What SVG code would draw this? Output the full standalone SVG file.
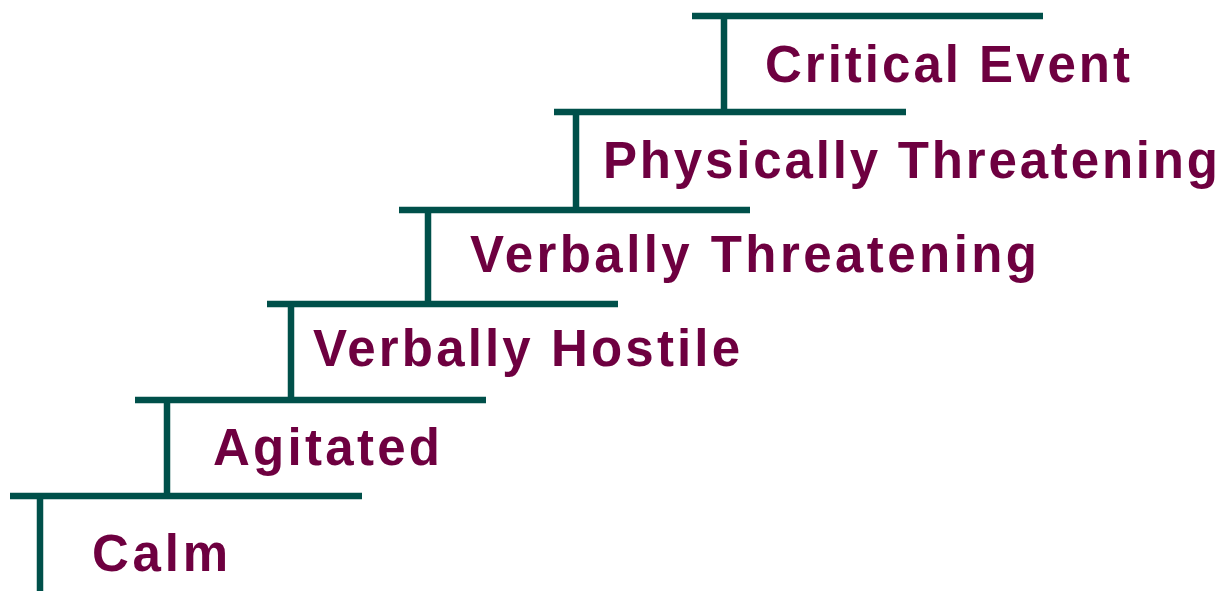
<svg xmlns="http://www.w3.org/2000/svg" width="1228" height="591" viewBox="0 0 1228 591">
<style>
.ln{stroke:#00504A;stroke-width:6.5;fill:none;stroke-linecap:butt}
.lb{font-family:"Liberation Sans",Arial,sans-serif;font-weight:bold;font-size:51px;fill:#6E0040}
</style>
<rect width="1228" height="591" fill="#FFFFFF"/>
<g id="connectors">
<path class="ln" d="M10 496H362M40 496V591"/>
<path class="ln" d="M135 400H486M167 400V496"/>
<path class="ln" d="M267 304H618M291 304V400"/>
<path class="ln" d="M399 210H750M428 210V307"/>
<path class="ln" d="M554 112H906M576 112V210"/>
<path class="ln" d="M692 16H1043M724 16V112"/>
</g>
<g id="calm"><text class="lb" x="92" y="571" textLength="136" lengthAdjust="spacing">Calm</text></g>
<g id="agitated"><text class="lb" x="213" y="465" textLength="227" lengthAdjust="spacing">Agitated</text></g>
<g id="verbally-hostile"><text class="lb" x="313" y="366" textLength="427" lengthAdjust="spacing">Verbally Hostile</text></g>
<g id="verbally-threatening"><text class="lb" x="470" y="272" textLength="567" lengthAdjust="spacing">Verbally Threatening</text></g>
<g id="physically-threatening"><text class="lb" x="603" y="178" textLength="615" lengthAdjust="spacing">Physically Threatening</text></g>
<g id="critical-event"><text class="lb" x="765" y="82" textLength="365" lengthAdjust="spacing">Critical Event</text></g>
</svg>
